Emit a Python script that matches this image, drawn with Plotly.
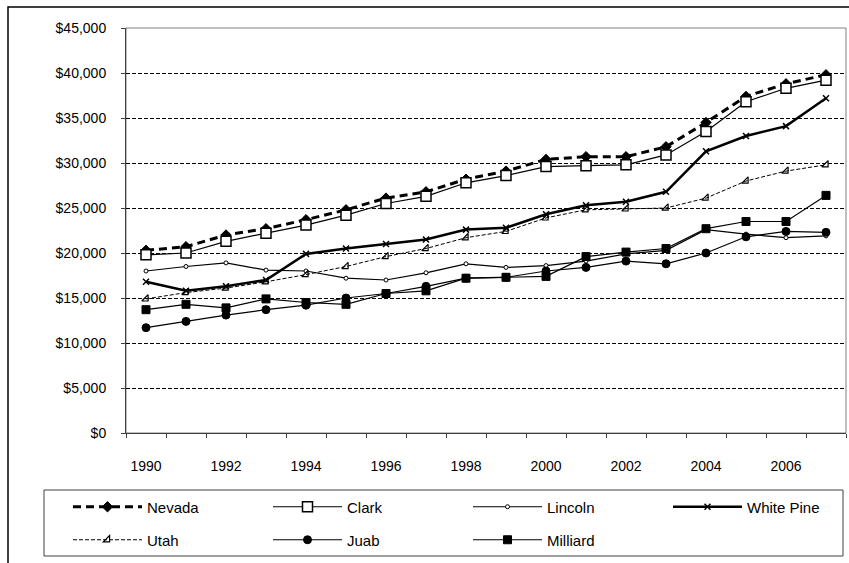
import plotly.graph_objects as go

years = list(range(1990, 2008))
tick_years = list(range(1990, 2007, 2))
tick_labels = [str(y) for y in tick_years]
y_ticks = list(range(0, 45001, 5000))
y_labels = ["$0", "$5,000", "$10,000", "$15,000", "$20,000", "$25,000", "$30,000", "$35,000", "$40,000", "$45,000"]

nevada = [20300, 20700, 22000, 22700, 23700, 24800, 26100, 26800, 28200, 29100, 30400, 30700, 30700, 31800, 34500, 37400, 38800, 39800]
clark = [19800, 20000, 21300, 22200, 23100, 24200, 25500, 26300, 27800, 28600, 29600, 29700, 29800, 30900, 33500, 36800, 38300, 39200]
lincoln = [18000, 18500, 18900, 18100, 18000, 17200, 17000, 17800, 18800, 18400, 18600, 19100, 19900, 20300, 22600, 22100, 21700, 21900]
white_pine = [16800, 15800, 16300, 17000, 19900, 20500, 21000, 21500, 22600, 22800, 24300, 25300, 25700, 26800, 31300, 33000, 34100, 37200]
utah = [14900, 15600, 16100, 16800, 17600, 18500, 19600, 20500, 21700, 22400, 23900, 24800, 24900, 25000, 26100, 28000, 29100, 29800]
juab = [11700, 12400, 13100, 13700, 14200, 15000, 15500, 16300, 17200, 17300, 18000, 18400, 19100, 18800, 20000, 21800, 22400, 22300]
milliard = [13700, 14300, 13900, 14900, 14500, 14300, 15500, 15800, 17200, 17300, 17400, 19600, 20100, 20500, 22700, 23500, 23500, 26400]

FONT = "Liberation Sans, Arial, sans-serif"

fig = go.Figure()

def add(name, vals, width, dash, symbol, size, fill, legend, lw=1):
    fig.add_trace(go.Scatter(
        x=years, y=vals, name=name, mode="lines+markers", legend=legend,
        line=dict(color="black", width=width, dash=dash),
        marker=dict(symbol=symbol, size=size, color=fill, line=dict(color="black", width=lw)),
    ))

add("Nevada", nevada, 3, "8px,5px", "diamond", 8, "black", "legend")
add("Clark", clark, 1.2, "solid", "square", 10, "white", "legend", 1.5)
add("Lincoln", lincoln, 1.2, "solid", "circle", 4, "white", "legend", 1)
add("White Pine", white_pine, 2.5, "solid", "x-thin", 6, "black", "legend3", 1.5)
add("Utah", utah, 1, "4px,2px", "triangle-se-open", 7, "black", "legend2", 1.2)
add("Juab", juab, 1.2, "solid", "circle", 8, "black", "legend2")
add("Milliard", milliard, 1.2, "solid", "square", 8, "black", "legend2")

base = dict(orientation="h", xanchor="left", yanchor="middle", itemwidth=69,
            font=dict(family=FONT, size=15, color="black"),
            bgcolor="rgba(0,0,0,0)", borderwidth=0, traceorder="normal")
leg_common = dict(base, entrywidth=116, entrywidthmode="pixels")

lx = (68 - 126) / 720
fig.update_layout(
    width=849, height=563,
    margin=dict(l=126, r=3, t=28, b=130),
    paper_bgcolor="white", plot_bgcolor="white",
    font=dict(family=FONT, size=14, color="black"),
    showlegend=True,
    legend=dict(x=lx, y=-0.1827, **leg_common),
    legend3=dict(x=lx + 600 / 720, y=-0.1827, **base),
    legend2=dict(x=lx, y=-0.2642, **leg_common),
    xaxis=dict(range=[1989.5, 2007.5], tickmode="array", tickvals=tick_years, ticktext=tick_labels,
               ticks="", showgrid=False, zeroline=False, showline=True, linecolor="#404040", linewidth=1,
               ticklabelstandoff=20,
               minor=dict(tickmode="linear", tick0=1989.5, dtick=1, ticks="outside", ticklen=4,
                          tickcolor="#404040", showgrid=False)),
    yaxis=dict(range=[0, 45000], tickmode="array", tickvals=y_ticks, ticktext=y_labels,
               ticks="outside", ticklen=4, tickcolor="#404040", ticklabelstandoff=12,
               showgrid=True, gridcolor="black", gridwidth=1, griddash="4px,2px",
               zeroline=False, showline=True, linecolor="#404040", linewidth=1),
    shapes=[
        dict(type="rect", xref="paper", yref="paper", x0=0, x1=1, y0=0, y1=1,
             line=dict(color="#808080", width=1), layer="below"),
        dict(type="rect", xref="paper", yref="paper",
             x0=(44 - 126) / 720, x1=(843 - 126) / 720, y0=(433 - 556) / 405, y1=(433 - 490) / 405,
             line=dict(color="#404040", width=1)),
        dict(type="rect", xref="paper", yref="paper",
             x0=(8 - 126) / 720, x1=2, y0=-3, y1=(433 - 7) / 405,
             line=dict(color="black", width=1.5)),
    ],
)

fig.write_html("out.html", config={"displayModeBar": False},
               post_script="document.body.style.margin='0';document.body.style.overflow='hidden';")
